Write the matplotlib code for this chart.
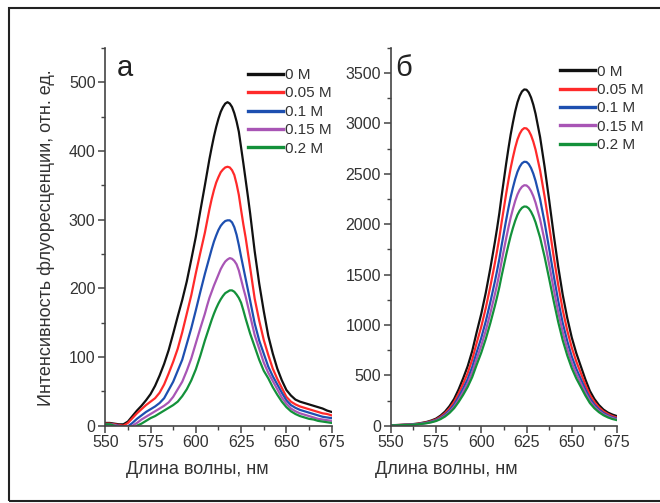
import numpy as np
import matplotlib
matplotlib.use("Agg")
import matplotlib.pyplot as plt
from matplotlib.ticker import MultipleLocator
from matplotlib.patches import Rectangle

plt.rcParams['font.family'] = ['Liberation Sans', 'DejaVu Sans']

# wavelength grid: 2.5 nm in the wings, 1.25 nm around the maxima
wavelength = np.r_[np.arange(550, 605.1, 2.5), np.arange(606.25, 630.1, 1.25),
                   np.arange(632.5, 675.1, 2.5)]
labels = ["0 M", "0.05 M", "0.1 M", "0.15 M", "0.2 M"]
colors = ["#111111", "#ff2a2a", "#1d4fb0", "#a855b5", "#13913a"]

# panel а
a_0 = [4, 4, 3, 2, 2, 6, 14, 22, 29, 37, 46, 58, 73, 90, 110, 134, 159, 183, 210, 242, 275, 313, 350,
       369, 388, 405, 421, 435, 447, 457, 464, 469, 471, 469, 464, 455, 443, 428, 405, 382, 358, 334, 309,
       254, 207, 167, 131, 105, 83, 66, 52, 44, 38, 35, 33, 31, 29, 27, 25, 22, 20]
a_005 = [3, 3, 2, 1, 0, 4, 11, 18, 24, 30, 35, 40, 48, 60, 76, 93, 112, 136, 163, 190, 222, 252, 281,
         298, 315, 330, 343, 354, 362, 369, 373, 376, 377, 376, 372, 365, 352, 336, 314, 293, 274, 252, 230,
         185, 153, 125, 103, 83, 68, 55, 42, 35, 31, 28, 26, 24, 22, 20, 18, 17, 15]
a_01 = [2, 2, 1, 0, -2, -1, 4, 10, 15, 20, 24, 28, 33, 40, 52, 64, 80, 96, 119, 142, 168, 195, 221,
        233, 245, 257, 268, 277, 285, 291, 295, 298, 299, 299, 296, 289, 278, 263, 246, 230, 214, 198, 182,
        149, 124, 105, 86, 72, 60, 48, 37, 30, 26, 23, 21, 19, 17, 15, 13, 12, 11]
a_015 = [2, 2, 1, -1, -4, -4, 0, 4, 9, 13, 17, 21, 25, 29, 34, 42, 53, 64, 80, 98, 120, 142, 163,
         175, 186, 195, 204, 212, 220, 228, 234, 239, 242, 244, 243, 240, 235, 226, 213, 200, 188, 174, 160,
         132, 112, 92, 77, 65, 53, 41, 32, 25, 21, 18, 16, 14, 12, 10, 9, 8, 7]
a_02 = [2, 2, 0, -3, -6, -8, -6, 0, 3, 7, 11, 14, 18, 22, 26, 30, 35, 43, 53, 66, 82, 102, 124,
        134, 144, 154, 163, 171, 178, 184, 189, 193, 195, 197, 197, 195, 191, 186, 179, 168, 156, 145, 134,
        115, 96, 80, 69, 56, 45, 35, 27, 21, 17, 14, 12, 10, 9, 7, 6, 5, 4]

# panel б
b_0 = [5, 6, 8, 10, 12, 16, 21, 29, 38, 52, 70, 100, 140, 195, 265, 360, 470, 590, 740, 930, 1110, 1320, 1560,
       1690, 1820, 1960, 2110, 2280, 2440, 2600, 2750, 2890, 3010, 3120, 3210, 3275, 3318, 3338, 3335, 3308, 3258, 3187, 3096,
       2865, 2570, 2240, 1900, 1580, 1300, 1070, 875, 720, 590, 460, 345, 265, 205, 160, 130, 110, 95]
b_005 = [4, 5, 7, 9, 11, 14, 19, 26, 34, 46, 62, 88, 124, 172, 235, 318, 416, 522, 655, 823, 982, 1168, 1380,
         1496, 1611, 1735, 1867, 2018, 2159, 2301, 2434, 2558, 2664, 2761, 2841, 2898, 2936, 2954, 2951, 2928, 2883, 2820, 2740,
         2535, 2275, 1985, 1680, 1400, 1150, 945, 775, 637, 522, 407, 305, 235, 181, 142, 115, 95, 80]
b_01 = [4, 5, 6, 8, 9, 13, 16, 23, 30, 41, 55, 78, 110, 153, 208, 283, 369, 463, 581, 730, 871, 1036, 1225,
        1327, 1429, 1539, 1656, 1790, 1915, 2041, 2159, 2269, 2363, 2449, 2520, 2571, 2605, 2620, 2618, 2597, 2558, 2502, 2430,
        2249, 2017, 1758, 1492, 1240, 1020, 840, 687, 565, 463, 361, 271, 208, 161, 126, 102, 84, 70]
b_015 = [4, 4, 6, 7, 9, 11, 15, 21, 27, 37, 50, 72, 100, 139, 189, 257, 336, 422, 529, 665, 794, 944, 1115,
         1208, 1301, 1401, 1509, 1630, 1745, 1859, 1966, 2066, 2152, 2231, 2295, 2342, 2372, 2387, 2385, 2365, 2329, 2279, 2214,
         2048, 1837, 1602, 1358, 1130, 930, 765, 626, 515, 422, 329, 247, 189, 147, 114, 93, 76, 62]
b_02 = [3, 4, 5, 7, 8, 10, 14, 19, 25, 34, 46, 65, 91, 127, 173, 235, 306, 385, 482, 606, 724, 861, 1017,
        1102, 1187, 1278, 1376, 1487, 1591, 1695, 1793, 1884, 1963, 2034, 2093, 2135, 2163, 2176, 2174, 2157, 2124, 2078, 2019,
        1868, 1676, 1460, 1239, 1030, 848, 698, 571, 469, 385, 300, 225, 173, 134, 104, 82, 66, 55]

series_a = [a_0, a_005, a_01, a_015, a_02]
series_b = [b_0, b_005, b_01, b_015, b_02]

W, H = 660, 503
fig = plt.figure(figsize=(6.6, 5.03), dpi=100)
ax1 = fig.add_axes([0.1595, 0.1537, 0.343, 0.751])
ax2 = fig.add_axes([0.592, 0.1537, 0.3429, 0.751])

axcol = "#444444"
txtcol = "#333333"

def style(ax, ymax, ymaj, ymin):
    ax.set_xlim(550, 675)
    ax.set_ylim(0, ymax)
    ax.xaxis.set_major_locator(MultipleLocator(25))
    ax.xaxis.set_minor_locator(MultipleLocator(12.5))
    ax.yaxis.set_major_locator(MultipleLocator(ymaj))
    ax.yaxis.set_minor_locator(MultipleLocator(ymin))
    for s in ["top", "right"]:
        ax.spines[s].set_visible(False)
    for s in ["left", "bottom"]:
        ax.spines[s].set_color(axcol)
        ax.spines[s].set_linewidth(1.2)
    ax.tick_params(which="major", direction="out", length=5, width=1.1,
                   color=axcol, labelsize=11.5, labelcolor=txtcol, pad=2)
    ax.tick_params(which="minor", direction="out", length=3, width=1.0, color=axcol)
    ax.set_facecolor("none")

style(ax1, 550, 100, 50)
style(ax2, 3750, 500, 250)

legend_anchor = {0: (248 / W, 1 - 68 / H), 1: (560 / W, 1 - 64.5 / H)}
for i, (ax, series) in enumerate([(ax1, series_a), (ax2, series_b)]):
    for vals, lab, c in zip(series, labels, colors):
        ax.plot(wavelength, vals, color=c, lw=1.6, label=lab, solid_joinstyle="round")
    leg = ax.legend(loc="upper left", bbox_to_anchor=legend_anchor[i],
                    bbox_transform=fig.transFigure, frameon=False, fontsize=11,
                    handlelength=2.3, handletextpad=0.12, labelspacing=0.29,
                    borderpad=0, borderaxespad=0)
    for t in leg.get_texts():
        t.set_color(txtcol)
    for l in leg.get_lines():
        l.set_linewidth(2.4)

ax1.text(0.05, 0.985, "а", transform=ax1.transAxes, fontsize=21, va="top", ha="left", color="#222222")
ax2.text(0.02, 0.983, "б", transform=ax2.transAxes, fontsize=21, va="top", ha="left", color="#222222")

fig.text(197.5 / W, 1 - 470 / H, "Длина волны, нм", ha="center", va="center",
         fontsize=13, color=txtcol)
fig.text(446.5 / W, 1 - 470 / H, "Длина волны, нм", ha="center", va="center",
         fontsize=13, color=txtcol)
fig.text(46 / W, 1 - 238 / H, "Интенсивность флуоресценции, отн. ед.", ha="center",
         va="center", rotation=90, fontsize=13, color=txtcol)

fig.add_artist(Rectangle((9 / W, 2 / H), 1.0, 493 / H, fill=False, lw=1.5,
                         edgecolor="#222222", transform=fig.transFigure))

fig.savefig("out.png", dpi=100, facecolor="white")
